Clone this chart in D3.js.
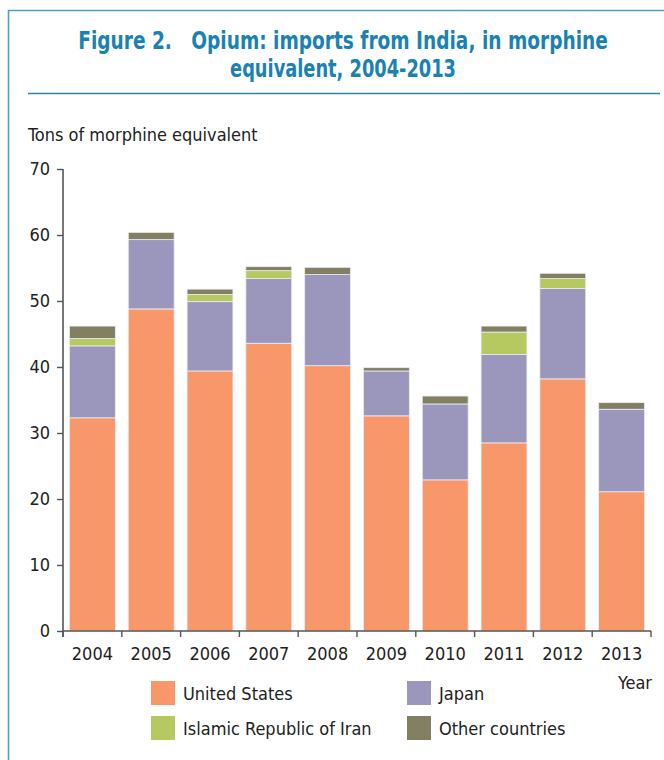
<!DOCTYPE html>
<html><head><meta charset="utf-8">
<script src="https://cdn.jsdelivr.net/npm/d3@7"></script>
<style>
html,body{margin:0;padding:0;background:#fff;}
svg{display:block;}
text{font-family:"Liberation Sans Narrow","Arial Narrow","DejaVu Sans Condensed","Liberation Sans",sans-serif;}
</style></head>
<body>
<svg id="chart" width="664" height="760"></svg>
<script>
const years = ["2004","2005","2006","2007","2008","2009","2010","2011","2012","2013"];
const unitedStates = [32.3, 48.8, 39.4, 43.6, 40.2, 32.6, 22.9, 28.5, 38.2, 21.1];
const japan        = [10.9, 10.5, 10.5,  9.8, 13.8,  6.8, 11.5, 13.4, 13.7, 12.5];
const iran         = [ 1.1,  0.0,  1.1,  1.2,  0.0,  0.0,  0.0,  3.4,  1.5,  0.0];
const other        = [ 1.9,  1.1,  0.8,  0.6,  1.1,  0.5,  1.2,  0.9,  0.8,  1.0];
const seriesNames = ["United States", "Japan", "Islamic Republic of Iran", "Other countries"];
const yTicks = [0, 10, 20, 30, 40, 50, 60, 70];
const titleLines = ["Figure 2.   Opium: imports from India, in morphine", "equivalent, 2004-2013"];
const yLabel = "Tons of morphine equivalent";
const xLabel = "Year";

const colors = ["#F7976A", "#9B97BC", "#B5C960", "#837F63"];
const titleWidths = [530, 226];
const svg = d3.select("#chart");

// frame
svg.append("path").attr("d", "M8.5,760 L8.5,10.5 L664,10.5")
  .attr("fill", "none").attr("stroke", "#4aa0c8").attr("stroke-width", 1.6);
svg.append("line").attr("x1", 28).attr("x2", 660).attr("y1", 93.5).attr("y2", 93.5)
  .attr("stroke", "#2f86ad").attr("stroke-width", 1.4);

// title (horizontally condensed to mimic the narrow face)
titleLines.forEach((t, i) => {
  const g = svg.append("g");
  const tx = g.append("text").attr("text-anchor", "middle").attr("fill", "#1a82b2")
    .attr("font-size", 25).attr("font-weight", "bold")
    .attr("x", 0).attr("y", 0)
    .attr("xml:space", "preserve")
    .text(t);
  const w = tx.node().getComputedTextLength();
  const s = Math.min(1, titleWidths[i] / w);
  g.attr("transform", "translate(343," + (49 + i * 28) + ") scale(" + s + ",1)");
});
svg.append("text").attr("x", 28).attr("y", 141).attr("font-size", 18).attr("fill", "#222").text(yLabel);

const x = d3.scaleBand().domain(years).range([63, 651]).paddingInner(0.22).paddingOuter(0.11);
const y = d3.scaleLinear().domain([0, 70]).range([631, 169]);

const table = years.map((yr, i) => ({year: yr, us: unitedStates[i], jp: japan[i], ir: iran[i], ot: other[i]}));
const keys = ["us", "jp", "ir", "ot"];
const stack = d3.stack().keys(keys)(table);

svg.append("g").selectAll("g").data(stack).join("g")
  .attr("fill", (d, i) => colors[i])
  .selectAll("rect").data(d => d).join("rect")
  .attr("x", d => x(d.data.year))
  .attr("width", x.bandwidth())
  .attr("y", d => y(d[1]))
  .attr("height", d => Math.max(0, y(d[0]) - y(d[1])))
  .attr("stroke", "#ececf4").attr("stroke-width", 0.8);

// y axis
const yAxis = svg.append("g").attr("transform", "translate(63,0)")
  .call(d3.axisLeft(y).tickValues(yTicks).tickSize(6).tickPadding(7).tickFormat(d3.format("d")));
yAxis.select(".domain").attr("stroke", "#555").attr("stroke-width", 1.6).attr("d", "M0," + y(70) + "V" + (y(0)+6));
yAxis.selectAll(".tick line").attr("stroke", "#555").attr("stroke-width", 1.4);
yAxis.selectAll(".tick text").attr("font-size", 18).attr("fill", "#222").attr("font-family", null);

// x axis
const xAxis = svg.append("g").attr("transform", "translate(0," + y(0) + ")")
  .call(d3.axisBottom(x).tickSize(0).tickPadding(16));
xAxis.select(".domain").attr("stroke", "#555").attr("stroke-width", 1.6).attr("d", "M63,0H651");
xAxis.selectAll(".tick text").attr("font-size", 18).attr("fill", "#222").attr("font-family", null);
const bounds = years.map(yr => x(yr) - x.step() * x.paddingInner() / 2).concat([651]);
xAxis.selectAll(".bound").data(bounds).join("line").attr("class", "bound")
  .attr("x1", d => d).attr("x2", d => d).attr("y1", 0).attr("y2", 6)
  .attr("stroke", "#555").attr("stroke-width", 1.4);

svg.append("text").attr("x", 652).attr("y", 689).attr("text-anchor", "end")
  .attr("font-size", 18).attr("fill", "#222").text(xLabel);

// legend
const legPos = [[151, 681], [407, 681], [151, 716], [407, 716]];
const leg = svg.append("g").selectAll("g").data(seriesNames).join("g")
  .attr("transform", (d, i) => "translate(" + legPos[i][0] + "," + legPos[i][1] + ")");
leg.append("rect").attr("width", 24).attr("height", 24).attr("fill", (d, i) => colors[i]);
leg.append("text").attr("x", 32).attr("y", 19).attr("font-size", 18).attr("fill", "#222").text(d => d);
</script>
</body></html>
